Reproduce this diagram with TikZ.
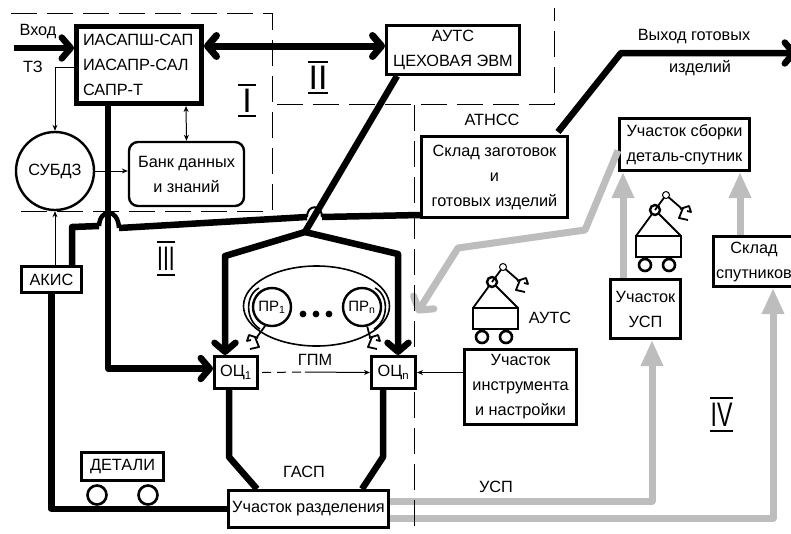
\documentclass[tikz,border=0pt]{standalone}
\usepackage{fontspec}
\setmainfont{Liberation Sans}
\usepackage{graphicx}
\usetikzlibrary{arrows.meta}
\definecolor{lightgray}{HTML}{BDBDBD}
\tikzset{
  txt/.style={font=\fontsize{16.3}{25}\selectfont, inner sep=0pt},
  blk/.style={draw, txt, align=center, line width=3pt},
  bus/.style={line width=6.5pt, line join=round},
  wire/.style={line width=1pt, -{Stealth[length=6pt,width=5pt]}},
  gline/.style={lightgray, line width=7pt, line join=round},
  zone/.style={line width=1pt, dash pattern=on 26pt off 10pt},
  bigbarb/.tip={Straight Barb[length=9pt,width=21pt,round]},
  grayhead/.tip={Triangle[length=26pt,width=21pt]},
  romnum/.style={font=\fontsize{34}{34}\selectfont, inner sep=0pt},
  claw/.pic={
    \draw[line width=1.8pt, line join=round] (-1,1) -- (8,-2) -- (10,4) -- (6,3);
    \draw[line width=1.8pt, line join=round] (2,0) -- (-2,10) -- (7,12);
  },
  robot/.pic={
    \draw[line width=2.6pt] (0,0) rectangle (45,21);
    \draw[line width=1.8pt] (0,0) -- (19,-26) -- (45,0);
    \draw[line width=2.4pt, fill=white] (19,-26) circle (5pt);
    \draw[line width=1.8pt] (19,-26) -- (30,-41);
    \draw[line width=1.8pt] (30,-41) -- (45,-28);
    \draw[line width=1pt, fill=white] (30,-41) circle (3.5pt);
    \draw[line width=2.6pt] (9,29) circle (6pt);
    \draw[line width=2.6pt] (33,29) circle (6pt);
    \pic at (45,-28) {claw};
  },
}
\begin{document}
\begin{tikzpicture}[x=1pt, y=-1pt, >=Stealth]
    \useasboundingbox (0,0) rectangle (791,533);
    \clip (0,0) rectangle (791,533);

    % Boxes
    \node[blk, line width=5pt, align=left, text width=112pt, minimum width=125pt, minimum height=77pt] (main) at (139,65) {ИАСАПШ-САП\\ИАСАПР-САЛ\\САПР-Т};
    \node[blk, minimum width=133pt, minimum height=49pt] (auts) at (453,50) {АУТС\\ЦЕХОВАЯ ЭВМ};
    \node[blk, line width=2.4pt, rounded corners=9pt, minimum width=115pt, minimum height=64pt] (bank) at (186.5,174) {Банк данных\\и знаний};
    \node[blk, line width=2.4pt, circle, minimum size=78pt] (subdz) at (55,171) {СУБДЗ};
    \node[blk, minimum width=60pt, minimum height=26pt] (akis) at (51.5,279.5) {АКИС};
    \node[blk, minimum width=82pt, minimum height=28pt] (detali) at (122.5,466.5) {ДЕТАЛИ};
    \node[blk, minimum width=160pt, minimum height=37pt] (razd) at (308.5,509) {Участок разделения};
    \node[blk, minimum width=43pt, minimum height=32pt] (oc1) at (236,372.5) {ОЦ\textsubscript{1}};
    \node[blk, minimum width=44pt, minimum height=32pt] (ocn) at (393.5,372.5) {ОЦ\textsubscript{n}};
    \node[blk, minimum width=112pt, minimum height=75pt] (instr) at (520.5,387) {Участок\\инструмента\\и настройки};
    \node[blk, minimum width=146pt, minimum height=81pt] (sklad) at (494.5,177) {Склад заготовок\\и\\готовых изделий};
    \node[blk, minimum width=130pt, minimum height=52pt] (sborka) at (684.5,144.5) {Участок сборки\\деталь-спутник};
    \node[blk, minimum width=70pt, minimum height=59pt] (usp) at (645.5,309) {Участок\\УСП};
    \node[blk, minimum width=82pt, minimum height=50pt] (sput) at (754,261.5) {Склад\\спутников};

    % Robots group
    \draw[line width=1.6pt] (316.5,306) ellipse [x radius=73, y radius=40];
    \node[blk, line width=2.4pt, circle, minimum size=38pt] (pr1) at (272,307) {\fontsize{15}{15}\selectfont ПР\textsubscript{1}};
    \node[blk, line width=2.4pt, circle, minimum size=38pt] (prn) at (362,307) {\fontsize{15}{15}\selectfont ПР\textsubscript{n}};
    \draw[line width=1.6pt] (259,288) .. controls (245,295) and (245,320) .. (260,329);
    \draw[line width=1.6pt] (375,288) .. controls (389,295) and (389,320) .. (374,329);
    \foreach \x in {303, 316, 329} {
        \fill (\x,314) circle (3.4pt);
    }
    \coordinate (clawa) at (257,337);
    \coordinate (clawb) at (370,337);
    \draw[line width=1.8pt] (pr1.250) -- (clawa);
    \draw[line width=1.8pt] (prn.285) -- (clawb);
    \pic[xscale=-1] at (clawa) {claw};
    \pic at (clawb) {claw};

    % Cart robots and cart wheels
    \pic at (473,308) {robot};
    \pic at (636,236) {robot};
    \draw[line width=2.6pt] (97,495) circle (9.5pt);
    \draw[line width=2.6pt] (148,495) circle (9.5pt);

    % Gray links
    \coordinate (graytip) at (417,313);
    \draw[gline, -{grayhead}] ([yshift=8pt]razd.east) -| ([xshift=6.5pt]usp.south);
    \draw[gline, -{grayhead}] ([yshift=-9pt]razd.east) -| ([xshift=19pt]sput.south);
    \draw[gline, -{grayhead}] ([xshift=-22.5pt]usp.north) -- ([xshift=-61.5pt]sborka.south);
    \draw[gline, -{grayhead}] ([xshift=-14pt]sput.north) -- ([xshift=55.5pt]sborka.south);
    \draw[gline, -{Straight Barb[length=9pt,width=24pt,round]}] ([yshift=-6pt]sborka.west) -- (585,230) -- (458,248) -- (graytip);

    % Zone borders
    \draw[zone] (11,13) -- (272,13) -- (272,211) -- (12,211);
    \draw[zone] (277,104) -- (554,104) -- (554,8);
    \draw[zone] (414,105) -- (414,352);
    \draw[zone] (414,392) -- (414,533);

    % Thick links
    \coordinate (inbeg) at (14,48);
    \coordinate (outend) at (797,53);
    \coordinate (fork) at (305,232);
    \draw[bus, -{bigbarb}] (inbeg) -- ([yshift=17pt]main.west);
    \draw[bus, line width=7pt, {bigbarb}-{bigbarb}] ([yshift=19pt]main.east) -- ([yshift=4pt]auts.west);
    \draw[bus, -{bigbarb}] ([xshift=-31pt]main.south) |- ([yshift=4pt]oc1.west);
    \draw[bus] ([xshift=-56pt]auts.south) -- (fork);
    \draw[bus, -{bigbarb}] (fork) -- (225,256) -- ([xshift=-11pt]oc1.north);
    \draw[bus, -{bigbarb}] (fork) -- (398,254) -- ([xshift=4.5pt]ocn.north);
    \draw[bus, -{bigbarb}] ([xshift=63.5pt,yshift=3pt]sklad.north) -- (621,53) -- (outend);
    \draw[bus] ([yshift=-38pt]sklad.west) -- (322,217);
    \draw[line width=2pt] (322,217) .. controls (322,204) and (307,204) .. (307,217);
    \draw[bus] (307,217) -- (119,228);
    \draw[line width=4.5pt] (119,228) .. controls (118,208) and (100,208) .. (99,226);
    \draw[bus] (99,226) -- (72,227) -- ([xshift=20.5pt]akis.north);
    \draw[bus] (akis.south) |- (razd.west);
    \draw[bus] ([xshift=-7pt]oc1.south) -- (229,457) -- ([xshift=-51.5pt]razd.north);
    \draw[bus] ([xshift=-10.5pt]ocn.south) -- (383,457) -- ([xshift=53.5pt]razd.north);

    % Thin links
    \coordinate (gpmmid) at (305,372);
    \draw[wire] ([yshift=-2pt]main.west) -| (subdz.north);
    \draw[wire, {Stealth[length=6pt,width=5pt]}-{Stealth[length=6pt,width=5pt]}] ([xshift=47pt]main.south) -- (bank.north);
    \draw[wire] (subdz.east) -- (bank.west |- subdz.east);
    \draw[wire] ([xshift=3.5pt]akis.north) -- (subdz.south);
    \draw[line width=1pt, dash pattern=on 9pt off 6pt] ([xshift=3pt]oc1.east) -- (gpmmid);
    \draw[wire] (gpmmid) -- (ocn.west);
    \draw[wire] (instr.west |- ocn.east) -- (ocn.east);

    % Free labels
    \node[txt] (inlabel) at (38,32) {Вход};
    \node[txt] (tzlabel) at (33,67) {ТЗ};
    \node[txt] (outlabela) at (694,37) {Выход готовых};
    \node[txt] (outlabelb) at (700,68) {изделий};
    \node[txt] (atnss) at (492,120) {АТНСС};
    \node[txt] (autslabel) at (550,318) {АУТС};
    \node[txt] (gpm) at (315,360) {ГПМ};
    \node[txt] (gasp) at (304,472) {ГАСП};
    \node[txt] (usplabel) at (496,487) {УСП};

    % Zone numbers
    \foreach \num/\txt/\x/\y/\w/\h/\sx in {a/I/247/100.5/18/31/1, b/II/318/77.5/20/31/1, c/III/166/258.5/18/33/0.62, d/IV/721.5/414.5/23/33/0.68} {
        \node[romnum, minimum width=\w pt, minimum height=\h pt] (rom\num) at (\x,\y) {\scalebox{\sx}[1]{\txt}};
        \draw[line width=2.2pt] (rom\num.north west) -- (rom\num.north east);
        \draw[line width=2.2pt] (rom\num.south west) -- (rom\num.south east);
    }
\end{tikzpicture}
\end{document}
